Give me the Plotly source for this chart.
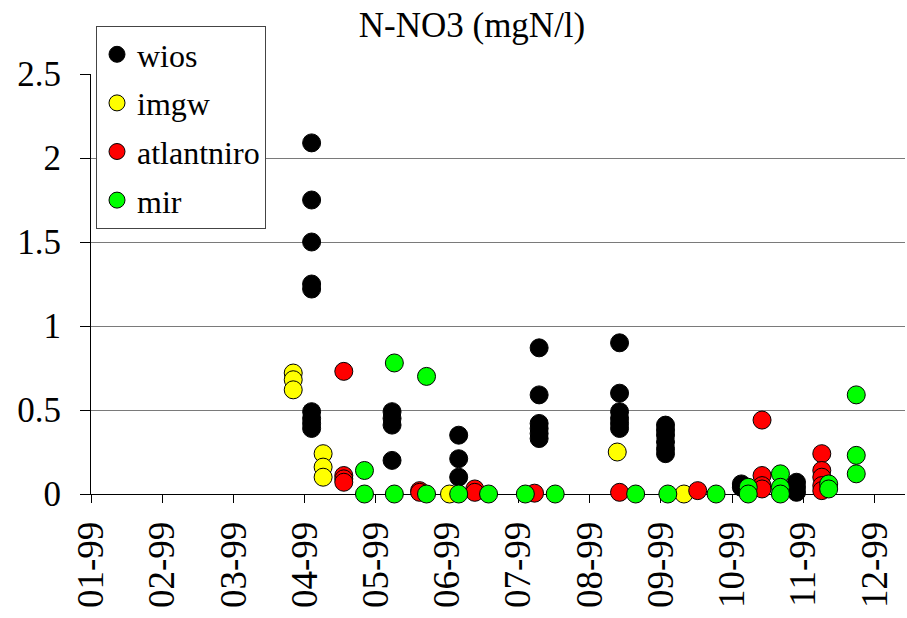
import plotly.graph_objects as go

# ---- data ----
wios_dates = (["1999-04-07"] * 9 + ["1999-05-12"] * 4 + ["1999-06-10"] * 3 +
              ["1999-07-15"] * 6 + ["1999-08-19"] * 6 + ["1999-09-08"] * 6 +
              ["1999-10-11"] * 2 + ["1999-11-04"] * 3)
wios_values = [2.09, 1.75, 1.50, 1.25, 1.22, 0.49, 0.45, 0.42, 0.39,
               0.49, 0.45, 0.41, 0.20,
               0.35, 0.21, 0.10,
               0.87, 0.59, 0.42, 0.39, 0.36, 0.33,
               0.90, 0.60, 0.49, 0.45, 0.42, 0.39,
               0.41, 0.38, 0.35, 0.31, 0.27, 0.24,
               0.06, 0.04,
               0.07, 0.04, 0.01]

imgw_dates = (["1999-03-30"] * 3 + ["1999-04-12"] * 3 + ["1999-06-06", "1999-08-18", "1999-09-16"])
imgw_values = [0.72, 0.68, 0.62, 0.24, 0.16, 0.10, 0.0, 0.25, 0.0]

atlantniro_dates = (["1999-04-21"] * 4 + ["1999-05-24"] * 2 + ["1999-06-17"] * 2 +
                    ["1999-07-13", "1999-08-19", "1999-09-22"] +
                    ["1999-10-20"] * 4 + ["1999-11-15"] * 5)
atlantniro_values = [0.73, 0.11, 0.09, 0.07,
                     0.02, 0.01,
                     0.03, 0.01,
                     0.005, 0.01, 0.02,
                     0.44, 0.11, 0.05, 0.03,
                     0.24, 0.14, 0.10, 0.05, 0.02]

mir_dates = (["1999-04-30"] * 2 + ["1999-05-13"] * 2 + ["1999-05-27"] * 2 +
             ["1999-06-10", "1999-06-23", "1999-07-09", "1999-07-22",
              "1999-08-26", "1999-09-09", "1999-09-30"] +
             ["1999-10-14"] * 2 + ["1999-10-28"] * 3 + ["1999-11-18"] * 2 +
             ["1999-11-30"] * 3)
mir_values = [0.14, 0.0, 0.78, 0.0, 0.70, 0.0,
              0.0, 0.0, 0.0, 0.0, 0.0, 0.0, 0.0,
              0.04, 0.0, 0.12, 0.04, 0.0, 0.06, 0.03,
              0.59, 0.23, 0.12]

tick_dates = ["1999-01-01", "1999-02-01", "1999-03-04", "1999-04-04", "1999-05-05",
              "1999-06-05", "1999-07-06", "1999-08-06", "1999-09-06", "1999-10-07",
              "1999-11-07", "1999-12-08"]
tick_labels = ["01-99", "02-99", "03-99", "04-99", "05-99", "06-99",
               "07-99", "08-99", "09-99", "10-99", "11-99", "12-99"]
y_ticks = [0, 0.5, 1, 1.5, 2, 2.5]
y_tick_labels = ["0", "0.5", "1", "1.5", "2", "2.5"]

FONT = "Liberation Serif"

series = [
    ("wios", wios_dates, wios_values, "#000000"),
    ("imgw", imgw_dates, imgw_values, "#FFFF00"),
    ("atlantniro", atlantniro_dates, atlantniro_values, "#FF0000"),
    ("mir", mir_dates, mir_values, "#00FF00"),
]

fig = go.Figure()
for name, xs, ys, col in series:
    fig.add_trace(go.Scatter(
        x=xs, y=ys, mode="markers", name=name, legendgroup=name,
        cliponaxis=False,
        marker=dict(size=18, color=col, line=dict(color="#000000", width=1)),
    ))

fig.update_layout(
    width=907, height=618,
    margin=dict(l=91, r=2, t=74, b=124, autoexpand=False),
    paper_bgcolor="white", plot_bgcolor="white",
    font=dict(family=FONT, color="black", size=32),
    title=dict(text="N-NO3 (mgN/l)", x=472 / 907, xref="container", xanchor="center",
               y=1 - 25 / 618, yref="container", yanchor="middle",
               font=dict(family=FONT, size=35, color="black")),
    legend=dict(x=96 / 907, y=1 - 26 / 618, xref="container", yref="container",
                xanchor="left", yanchor="top",
                bgcolor="white", bordercolor="#444", borderwidth=1,
                font=dict(family=FONT, size=32, color="black"),
                traceorder="grouped", tracegroupgap=4),
    showlegend=True,
)
fig.update_xaxes(
    type="date", range=["1999-01-01", "1999-12-21 05:00"],
    tickmode="array", tickvals=tick_dates, ticktext=tick_labels,
    tickangle=-90, ticks="outside", ticklen=8, tickcolor="black",
    showline=True, linecolor="black", linewidth=1, showgrid=False, zeroline=False,
    tickfont=dict(family=FONT, size=37, color="black"), layer="below traces",
    automargin=False, ticklabelstandoff=4,
)
fig.update_yaxes(
    range=[0, 2.5], tickmode="array", tickvals=y_ticks, ticktext=y_tick_labels,
    ticks="outside", ticklen=10, tickcolor="black",
    showline=True, linecolor="black", linewidth=1,
    showgrid=True, gridcolor="#7a7a7a", gridwidth=1, zeroline=False,
    tickfont=dict(family=FONT, size=35, color="black"), layer="below traces",
    ticklabelstandoff=12, automargin=False,
)

fig.write_html("out.html", config={"displayModeBar": False},
               post_script="document.body.style.margin='0';")
